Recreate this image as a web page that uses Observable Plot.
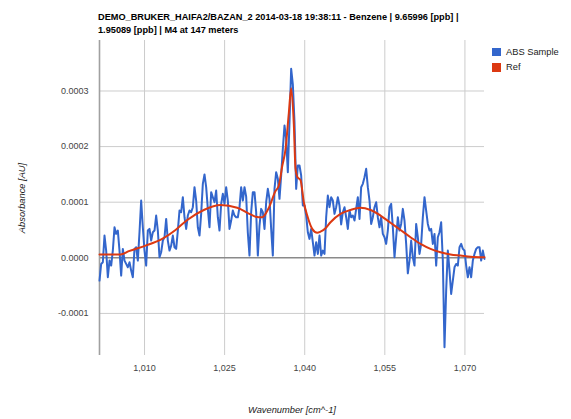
<!DOCTYPE html>
<html>
<head>
<meta charset="utf-8">
<script src="https://cdn.jsdelivr.net/npm/d3@7"></script>
<script src="https://cdn.jsdelivr.net/npm/@observablehq/plot@0.6"></script>
<style>
html, body { margin: 0; padding: 0; background: #fff; }
#chart { position: relative; width: 571px; height: 419px; overflow: hidden;
  font-family: "Liberation Sans", Arial, sans-serif; background: #fff; }
#title { box-sizing: border-box; height: 40px; padding: 10.7px 0 0 98px;
  font-weight: bold; font-size: 9.2px; line-height: 13.5px; color: #000; white-space: nowrap; }
#legend { position: absolute; left: 492px; top: 44px; font-size: 9.3px; color: #222; }
#legend .item { display: flex; align-items: center; height: 15.5px; }
#legend .sw { width: 8.5px; height: 8.5px; margin-right: 5.5px; }
#plot svg { display: block; }
</style>
</head>
<body>
<div id="chart">
  <div id="title"></div>
  <div id="plot"></div>
  <div id="legend"></div>
</div>
<script>
// ---- Text ----
const titleLines = [
  "DEMO_BRUKER_HAIFA2/BAZAN_2 2014-03-18 19:38:11 - Benzene | 9.65996 [ppb] |",
  "1.95089 [ppb] | M4 at 147 meters"
];
const xAxisTitle = "Wavenumber [cm^-1]";
const yAxisTitle = "Absorbance [AU]";
const seriesNames = ["ABS Sample", "Ref"];
const seriesColors = ["#3366cc", "#dc3912"];

// ---- Ticks ----
const xTicks = [1010, 1025, 1040, 1055, 1070];
const yTicks = [0.0003, 0.0002, 0.0001, 0, -0.0001];
const yGridTicks = [0.0003, 0.0002, 0.0001, -0.0001];

// ---- ABS Sample: evenly sampled spectrum (absorbance in units of 1e-4 AU) ----
const wavenumberStart = 1001.57;
const wavenumberStep = 0.3121;
const absSampleE4 = [
  -0.41, -0.11, -0.08, 0.40, 0.13, -0.35, -0.05, -0.14, 0.13, 0.55,
  0.43, 0.49, 0.13, -0.32, 0.16, -0.05, -0.11, -0.17, -0.08, -0.23,
  -0.35, 0.16, 0.19, -0.05, 0.46, 1.03, 0.55, 0.13, -0.14, 0.49,
  0.52, 0.31, 0.46, 0.49, 0.76, 0.49, 0.01, 0.10, 0.31, 0.37,
  0.70, 0.31, 0.13, 0.22, 0.40, 0.19,
  0.16, 0.49, 0.85, 0.82, 1.09, 0.73, 0.52, 0.76, 0.85, 0.82,
  0.91, 1.27, 1.03, 0.55, 0.40, 0.79, 1.33, 1.50, 1.27, 0.88,
  0.55, 1.18, 1.09, 1.00, 1.21, 0.73, 0.49, 0.97, 1.15, 0.97,
  1.27, 1.03, 0.52, 0.67, 0.85, 0.76, 0.73, 0.73, 0.91, 1.27,
  1.03, 1.27,
  1.10, 0.45, 0.04, 0.82, 1.18, 1.18, 0.82, 0.04, 0.58, 0.88,
  0.82, 0.52, 1.00, 1.24, 1.06, 0.52, 0.04, 1.24, 1.54, 1.42,
  1.06, 1.48, 1.96, 2.38, 2.14, 1.54, 2.44, 3.40, 3.12, 2.44,
  1.24, 1.66, 1.66, 1.48, 0.94, 0.94, 0.76, 0.46, 0.34, 0.52,
  0.28, 0.04, 0.28, 0.07, 0.40, 0.04,
  0.13, 0.07, 0.73, 1.12, 0.91, 1.09, 1.03, 0.79, 0.91, 1.09,
  0.94, 0.60, 0.82, 0.91, 0.73, 0.52, 0.85, 0.73, 0.76, 0.67,
  0.88, 1.09, 0.70, 1.27, 1.33, 1.45, 1.60, 1.27, 1.03, 0.61,
  0.73, 0.91, 1.00, 0.73, 0.55, 0.73, 0.43, 0.37, 0.25, 0.49,
  0.91, 0.97, 0.55, 0.01, 0.37, 0.73, 0.49,
  0.61, 0.88, 0.67, 0.25, -0.28, -0.05, 0.31, 0.01, -0.14, 0.61,
  0.37, 0.07, 0.25, 0.73, 1.09, 0.85, 0.61, 0.49, 0.52, 0.25,
  0.43, -0.14, 0.37, 0.46, 0.64, -0.05, -1.61, -0.59, 0.13, -0.23,
  -0.65, -0.41, -0.17, -0.11, -0.14, 0.19, 0.25, 0.16, 0.13, -0.14,
  -0.35, -0.17, -0.35, -0.05, 0.07, 0.16, 0.19, 0.19, -0.05, 0.13,
  -0.02
];

// ---- Ref: smooth reference spectrum (absorbance in units of 1e-4 AU) ----
const refWavenumbers = [
  1001.57, 1003.63, 1005.51, 1007.06, 1010.19, 1013.31, 1015.81, 1018.00, 1021.10, 1024.23,
  1027.36, 1029.85, 1030.79, 1032.04, 1033.28, 1034.53, 1035.15, 1035.79, 1036.40, 1037.02,
  1037.47, 1037.96, 1038.28, 1038.65, 1039.21, 1039.83, 1040.47, 1041.40, 1042.34, 1042.96,
  1043.90, 1044.83, 1046.70, 1048.58, 1050.45, 1052.32, 1054.19, 1056.07, 1057.94, 1059.81,
  1061.69, 1063.56, 1065.43, 1067.30, 1069.18, 1071.05, 1073.67
];
const refE4 = [
  0.06, 0.06, 0.06, 0.12, 0.22, 0.34, 0.50, 0.68, 0.86, 0.95,
  0.90, 0.78, 0.74, 0.73, 0.90, 1.20, 1.30, 1.65, 1.95, 2.60,
  3.05, 2.40, 1.60, 1.45, 1.40, 1.00, 0.76, 0.52, 0.45, 0.47,
  0.53, 0.64, 0.79, 0.86, 0.90, 0.86, 0.76, 0.63, 0.50, 0.37,
  0.25, 0.16, 0.10, 0.06, 0.04, 0.02, 0.01
];

// ---- Build tables ----
const E4 = 1e-4;
const sample = absSampleE4.map((v, i) => ({
  wavenumber: wavenumberStart + i * wavenumberStep, absorbance: v * E4
}));
const ref = refWavenumbers.map((w, i) => ({ wavenumber: w, absorbance: refE4[i] * E4 }));
const xMin = sample[0].wavenumber;
const xMax = sample[sample.length - 1].wavenumber;

// ---- Title ----
const titleEl = document.getElementById("title");
titleLines.forEach(t => { const d = document.createElement("div"); d.textContent = t; titleEl.appendChild(d); });

// ---- Legend ----
const legendEl = document.getElementById("legend");
seriesNames.forEach((n, i) => {
  const it = document.createElement("div"); it.className = "item";
  const sw = document.createElement("div"); sw.className = "sw"; sw.style.background = seriesColors[i];
  const tx = document.createElement("span"); tx.textContent = n;
  it.appendChild(sw); it.appendChild(tx); legendEl.appendChild(it);
});

// ---- Plot ----
const plot = Plot.plot({
  width: 571,
  height: 379,
  marginLeft: 99,
  marginRight: 87,
  marginTop: 0,
  marginBottom: 64,
  style: { fontFamily: "'Liberation Sans', Arial, sans-serif", fontSize: "9px", background: "#fff", overflow: "visible" },
  x: { domain: [xMin, xMax] },
  y: { domain: [-0.0001757, 0.0003908] },
  marks: [
    Plot.gridX(xTicks, { stroke: "#cccccc", strokeOpacity: 1, strokeWidth: 1 }),
    Plot.gridY(yGridTicks, { stroke: "#cccccc", strokeOpacity: 1, strokeWidth: 1 }),
    Plot.ruleY([0], { stroke: "#8a8a8a", strokeWidth: 1.4 }),
    Plot.ruleX([xMin], { stroke: "#a0a0a0", strokeWidth: 1.6 }),
    Plot.axisX({ ticks: xTicks, tickFormat: d3.format(","), tickSize: 0, tickPadding: 9, label: null, fill: "#444", fontSize: 9 }),
    Plot.axisY({ ticks: yTicks, tickFormat: d => d.toFixed(4), tickSize: 0, tickPadding: 11, label: null, fill: "#444", fontSize: 9 }),
    Plot.line(sample, { x: "wavenumber", y: "absorbance", stroke: seriesColors[0], strokeWidth: 2, strokeLinejoin: "round" }),
    Plot.line(ref, { x: "wavenumber", y: "absorbance", stroke: seriesColors[1], strokeWidth: 2, curve: "monotone-x" }),
    Plot.text([yAxisTitle], { text: d => d, frameAnchor: "left", dx: -77, rotate: -90, textAnchor: "middle", lineAnchor: "middle", fontStyle: "italic", fill: "#222", fontSize: 9.3 }),
    Plot.text([xAxisTitle], { text: d => d, frameAnchor: "bottom", dy: 55, textAnchor: "middle", lineAnchor: "middle", fontStyle: "italic", fill: "#222", fontSize: 9.3 })
  ]
});
document.getElementById("plot").appendChild(plot);
</script>
</body>
</html>
